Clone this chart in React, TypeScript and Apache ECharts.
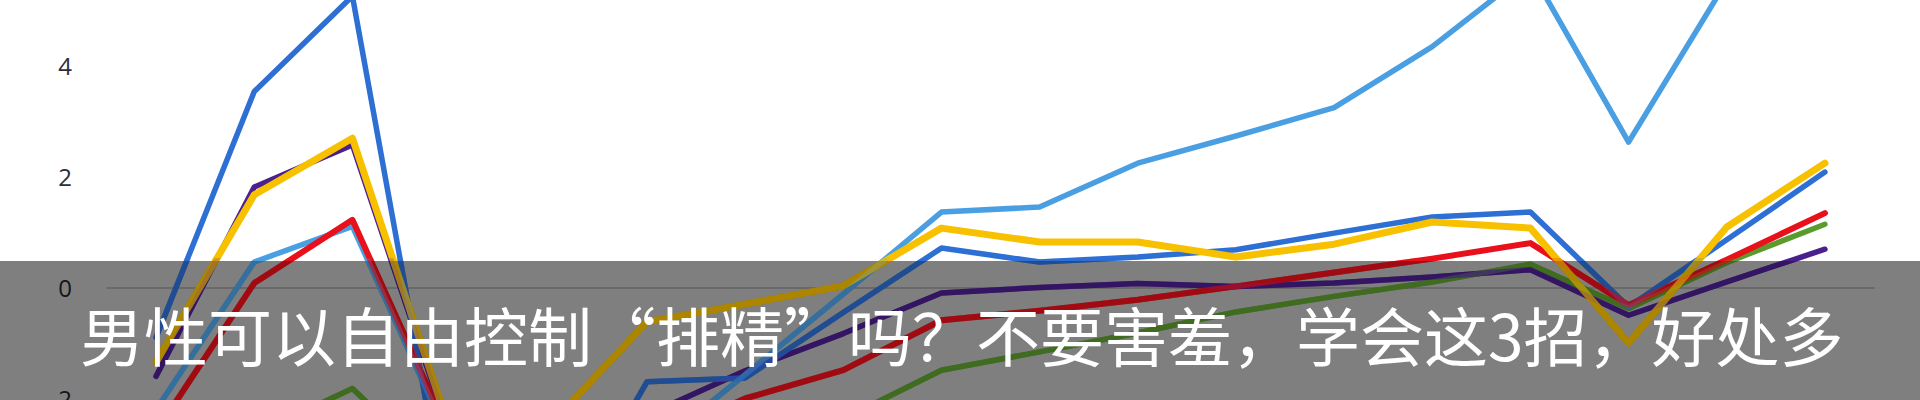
import React, { useEffect, useRef } from "react";
import * as echarts from "echarts";

// 18 points along the x axis (labels not visible in the reference)
const categories = [
  "1", "2", "3", "4", "5", "6", "7", "8", "9",
  "10", "11", "12", "13", "14", "15", "16", "17", "18",
];

const skyBlue = [-2.2, 0.46, 1.1, -2.8, -3.6, -3.0, -1.57, -0.12, 1.36, 1.45, 2.24, 2.73, 3.24, 4.34, 5.72, 2.62, 5.52, 5.8];
const blue = [-0.9, 3.53, 5.25, -4.5, -4.8, -1.7, -1.63, -0.45, 0.71, 0.46, 0.55, 0.68, 0.98, 1.27, 1.36, -0.35, 0.86, 2.08];
const yellow = [-1.34, 1.67, 2.69, -2.6, -2.5, -0.62, -0.3, 0.03, 1.07, 0.82, 0.82, 0.55, 0.78, 1.18, 1.07, -1.0, 1.09, 2.24];
const purple = [-1.6, 1.81, 2.57, -2.7, -3.2, -2.3, -1.5, -0.83, -0.1, 0.0, 0.07, 0.02, 0.08, 0.19, 0.32, -0.5, 0.1, 0.69];
const red = [-2.6, 0.08, 1.22, -2.7, -3.3, -2.8, -2.0, -1.49, -0.59, -0.42, -0.22, 0.02, 0.27, 0.52, 0.8, -0.32, 0.5, 1.34];
const green = [-3.3, -2.65, -1.82, -3.5, -3.9, -3.6, -3.1, -2.37, -1.49, -1.16, -0.82, -0.44, -0.16, 0.1, 0.42, -0.38, 0.45, 1.14];

const yMin = -6;
const yMax = 6;
const yStep = 2;

const titleText = "男性可以自由控制“排精”吗？不要害羞，学会这3招，好处多";

const SHIFT = 100; // chart canvas is shifted up so the reference crop is reproduced
const GRID_TOP = 54.5;
const GRID_H = 666;
const BANNER_TOP = 261 + SHIFT;

export default function App() {
  const ref = useRef<HTMLDivElement>(null);

  useEffect(() => {
    if (!ref.current) return;
    const chart = echarts.init(ref.current, undefined, { renderer: "svg" });

    const unit = GRID_H / (yMax - yMin);
    const bannerMax = yMax - (BANNER_TOP - GRID_TOP) / unit;

    const lines: [string, number[], string, number][] = [
      ["green", green, "#5b9b2d", 5.5],
      ["purple", purple, "#4b1f8e", 5.5],
      ["skyBlue", skyBlue, "#4a9fe3", 5.5],
      ["blue", blue, "#2e6fd4", 5.5],
      ["red", red, "#e8101a", 6],
      ["yellow", yellow, "#f7c100", 7],
    ];

    const mk = (
      name: string,
      data: number[],
      color: string,
      width: number,
      idx: number,
      opacity: number,
      z: number
    ) => ({
      name,
      type: "line",
      data,
      xAxisIndex: idx,
      yAxisIndex: idx,
      symbol: "none",
      clip: true,
      z,
      silent: true,
      lineStyle: { color, width, cap: "round", join: "round", opacity },
      itemStyle: { color },
    });

    const hiddenX = (gi: number) => ({
      type: "category",
      gridIndex: gi,
      data: categories,
      boundaryGap: true,
      axisLine: gi === 0
        ? { show: true, onZero: true, lineStyle: { color: "#d2d2d2", width: 2 } }
        : { show: false },
      axisTick: { show: false },
      axisLabel: { show: false },
      splitLine: { show: false },
    });

    chart.setOption({
      animation: false,
      backgroundColor: "#ffffff",
      grid: [
        { left: 107, right: 46, top: GRID_TOP, height: GRID_H },
        { left: 107, right: 46, top: BANNER_TOP, height: GRID_TOP + GRID_H - BANNER_TOP },
      ],
      xAxis: [hiddenX(0), hiddenX(1)],
      yAxis: [
        {
          type: "value",
          gridIndex: 0,
          min: yMin,
          max: yMax,
          interval: yStep,
          axisLine: { show: false },
          axisTick: { show: false },
          splitLine: { show: false },
          axisLabel: {
            color: "#2d2d3a",
            fontSize: 24,
            fontFamily: "Open Sans",
            margin: 35,
            padding: [0, 0, 7, 0],
          },
        },
        {
          type: "value",
          gridIndex: 1,
          min: yMin,
          max: bannerMax,
          axisLine: { show: false },
          axisTick: { show: false },
          splitLine: { show: false },
          axisLabel: { show: false },
        },
      ],
      series: [
        ...lines.map(([n, d, c, w]) => mk(n, d, c, w, 0, 1, 2)),
        ...lines.map(([n, d, c, w]) => mk(n + "-tint", d, c, w, 1, 0.4, 150)),
      ],
      graphic: [
        {
          type: "rect",
          z: 100,
          shape: { x: 0, y: BANNER_TOP, width: 1920, height: 300 },
          style: { fill: "rgba(0,0,0,0.5)" },
          silent: true,
        },
        {
          type: "text",
          z: 200,
          x: 80,
          y: 333 + SHIFT,
          style: {
            text: titleText,
            fill: "#ffffff",
            fontSize: 64,
            fontFamily: "Noto Sans CJK SC",
            verticalAlign: "middle",
            align: "left",
          },
          silent: true,
        },
      ],
    });

    return () => chart.dispose();
  }, []);

  return (
    <div
      style={{
        position: "fixed",
        left: 0,
        top: 0,
        width: 1920,
        height: 400,
        overflow: "hidden",
        background: "#ffffff",
      }}
    >
      <div
        ref={ref}
        style={{ position: "absolute", left: 0, top: -SHIFT, width: 1920, height: 770 }}
      />
    </div>
  );
}
